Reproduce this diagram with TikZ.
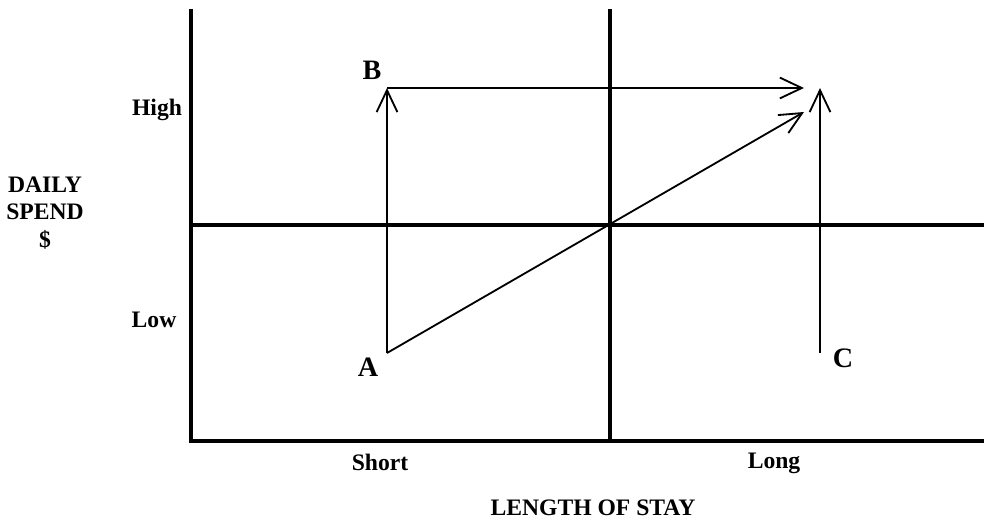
\documentclass[tikz,border=0pt]{standalone}
\usepackage{fontspec}
\setmainfont{Liberation Serif}
\usetikzlibrary{arrows.meta,positioning}

\begin{document}
\begin{tikzpicture}[
    x=0.025cm, y=-0.025cm,
    axis/.style={line width=2.8pt, line join=miter},
    arrow/.style={-{Straight Barb[length=0.55cm, width=0.52cm, line width=1.3pt]}, line width=1.3pt},
    lbl/.style={font=\fontsize{16.8}{19.5}\selectfont\bfseries, inner sep=0pt, anchor=base},
    point/.style={lbl, font=\fontsize{20}{24}\selectfont\bfseries}
]
    \useasboundingbox (0,0) rectangle (984,519);

    \coordinate (top) at (191,9);
    \coordinate (origin) at (191,441);
    \coordinate (right) at (984,441);
    \coordinate (midtop) at (610,9);
    \coordinate (midbot) at (610,441);
    \coordinate (midleft) at (191,225);
    \coordinate (midright) at (984,225);

    \coordinate (A) at (387,353);
    \coordinate (B) at (387,88);
    \coordinate (C) at (820,353);
    \coordinate (Bend) at (804,88);
    \coordinate (Aend) at (804,112);
    \coordinate (Cend) at (820,88);

    \draw[axis] (top) -- (origin) -- (right);
    \draw[axis] (midtop) -- (midbot);
    \draw[axis] (midleft) -- (midright);

    \draw[arrow] (A) -- (B);
    \draw[arrow] (B) -- (Bend);
    \draw[arrow] (A) -- (Aend);
    \draw[arrow] (C) -- (Cend);

    \node[point] (labB) at (372,79) {B};
    \node[point] (labA) at (368,376) {A};
    \node[point] (labC) at (843,367) {C};
    \node[lbl] (high) at (157,115) {High};
    \node[lbl] (low) at (154,327) {Low};
    \node[lbl] (short) at (380,470) {Short};
    \node[lbl] (long) at (774,468) {Long};
    \node[lbl] (xtitle) at (593,515) {LENGTH OF STAY};
    \node[lbl, anchor=center, align=center] (ytitle) at (45,213) {DAILY\\SPEND\\\$};
\end{tikzpicture}
\end{document}
